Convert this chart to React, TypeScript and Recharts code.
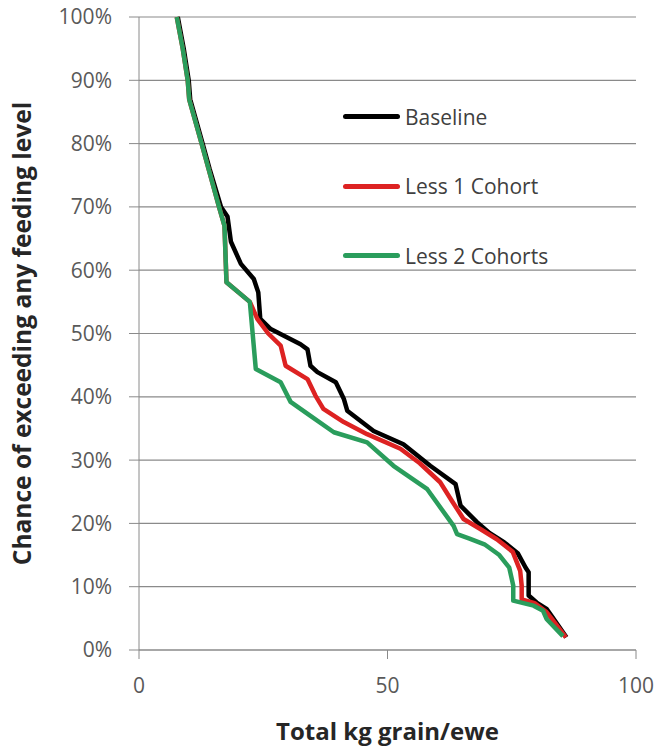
import React from 'react';
import { LineChart, Line, XAxis, YAxis, CartesianGrid, Legend } from 'recharts';

const seriesNames = ['Baseline', 'Less 1 Cohort', 'Less 2 Cohorts'];
const seriesColors = ['#000000', '#dd2222', '#2a9d5c'];

const kgBaseline = [7.8, 9.0, 10.0, 10.3, 12.8, 14.2, 16.5, 17.8, 18.5, 20.5, 23.1, 24.0, 24.4, 26.5, 32.5, 33.9, 34.5, 35.9, 39.6, 41.2, 41.9, 45.9, 47.2, 53.2, 58.6, 63.7, 64.7, 68.0, 70.5, 73.5, 76.2, 77.8, 78.4, 78.4, 80.0, 82.0, 83.0, 86.0];
const pctBaseline = [100, 95, 90, 87, 80, 76, 70, 68.5, 64.5, 61, 58.6, 56.5, 52.3, 50.7, 48.3, 47.5, 44.9, 43.9, 42.3, 39.7, 37.8, 35.4, 34.6, 32.5, 29.1, 26.2, 22.8, 20.2, 18.5, 17.0, 15.3, 13.0, 12.3, 8.6, 7.5, 6.5, 5.4, 2.0];

const kgLess1 = [7.6, 8.8, 9.8, 10.1, 12.6, 14.0, 16.1, 17.2, 17.6, 22.3, 23.8, 26.0, 28.5, 29.5, 33.9, 35.5, 37.1, 41.2, 45.9, 52.6, 56.5, 60.6, 63.0, 65.3, 68.5, 72.0, 75.2, 76.7, 77.0, 77.0, 79.6, 82.0, 83.0, 85.9];
const pctLess1 = [100, 95, 90, 87, 80, 76, 70, 67, 58.1, 55, 52.3, 50, 48.1, 44.9, 42.8, 40.2, 38.1, 36, 34.1, 31.8, 29.5, 26.5, 23.5, 20.7, 19.2, 17.5, 15.5, 12.5, 10.2, 8.0, 7.4, 6.0, 5.0, 2.0];

const kgLess2 = [7.6, 8.8, 9.8, 10.1, 12.6, 14.0, 16.1, 17.2, 17.6, 22.3, 23.5, 28.5, 30.5, 34.5, 39.2, 45.9, 51.2, 58.0, 63.3, 64.0, 66.5, 69.5, 72.5, 74.5, 75.3, 75.3, 79.4, 81.3, 82.0, 85.3];
const pctLess2 = [100, 95, 90, 87, 80, 76, 70, 67, 58.1, 55, 44.4, 42.3, 39.2, 37, 34.4, 32.8, 29.1, 25.4, 19.6, 18.3, 17.6, 16.7, 15.0, 13.0, 10.2, 7.8, 7.0, 6.2, 4.9, 2.2];

const xTicks = [0, 50, 100];
const yTicks = [0, 10, 20, 30, 40, 50, 60, 70, 80, 90, 100];

const build = (kg: number[], pct: number[]) => kg.map((k, i) => ({ kg: k, pct: pct[i] }));

const dataSets = [
  build(kgBaseline, pctBaseline),
  build(kgLess1, pctLess1),
  build(kgLess2, pctLess2),
];

const FONT = '"Open Sans", "DejaVu Sans", sans-serif';

const renderLegend = (props: any) => {
  const payload = (props.payload || []) as any[];
  return (
    <div style={{ display: 'flex', flexDirection: 'column', fontFamily: FONT }}>
      {payload.map((entry: any) => (
        <div key={entry.value} style={{ display: 'flex', alignItems: 'center', height: 69.5 }}>
          <div style={{ width: 57, height: 5, background: entry.color, borderRadius: 2.5 }} />
          <span style={{ marginLeft: 5, fontSize: 21, color: '#404040', whiteSpace: 'nowrap' }}>{entry.value}</span>
        </div>
      ))}
    </div>
  );
};

export default function App() {
  return (
    <div style={{ position: 'absolute', left: 0, top: 0, background: '#fff' }}>
      <LineChart width={661} height={746} margin={{ top: 17, right: 25, left: 0, bottom: 0 }}>
        <CartesianGrid horizontal vertical={false} stroke="#8a8a8a" strokeWidth={1.2} />
        <XAxis
          type="number"
          dataKey="kg"
          domain={[0, 100]}
          ticks={xTicks}
          allowDataOverflow
          height={96}
          stroke="#8a8a8a"
          tickSize={9}
          tickMargin={19}
          tick={{ fill: '#595959', fontSize: 21, fontFamily: FONT }}
          label={{
            value: 'Total kg grain/ewe',
            position: 'insideBottom',
            offset: 6,
            style: { fontWeight: 'bold', fontSize: 24, fill: '#262626', fontFamily: FONT },
          }}
        />
        <YAxis
          type="number"
          dataKey="pct"
          domain={[0, 100]}
          ticks={yTicks}
          width={139}
          stroke="#8a8a8a"
          tickSize={10}
          tickMargin={17}
          tickFormatter={(v: number) => `${v}%`}
          tick={{ fill: '#595959', fontSize: 21, fontFamily: FONT }}
          label={{
            value: 'Chance of exceeding any feeding level',
            angle: -90,
            position: 'insideLeft',
            offset: 22,
            style: { textAnchor: 'middle', fontWeight: 'bold', fontSize: 24.5, fill: '#262626', fontFamily: FONT },
          }}
        />
        <Legend
          layout="vertical"
          align="center"
          verticalAlign="middle"
          content={renderLegend}
          wrapperStyle={{ position: 'absolute', left: 343, top: 82, width: 'auto', height: 'auto' }}
        />
        {dataSets.map((d, i) => (
          <Line
            key={seriesNames[i]}
            data={d}
            dataKey="pct"
            name={seriesNames[i]}
            type="linear"
            stroke={seriesColors[i]}
            strokeWidth={4.5}
            dot={false}
            activeDot={false}
            isAnimationActive={false}
            strokeLinejoin="round"
          />
        ))}
      </LineChart>
    </div>
  );
}
